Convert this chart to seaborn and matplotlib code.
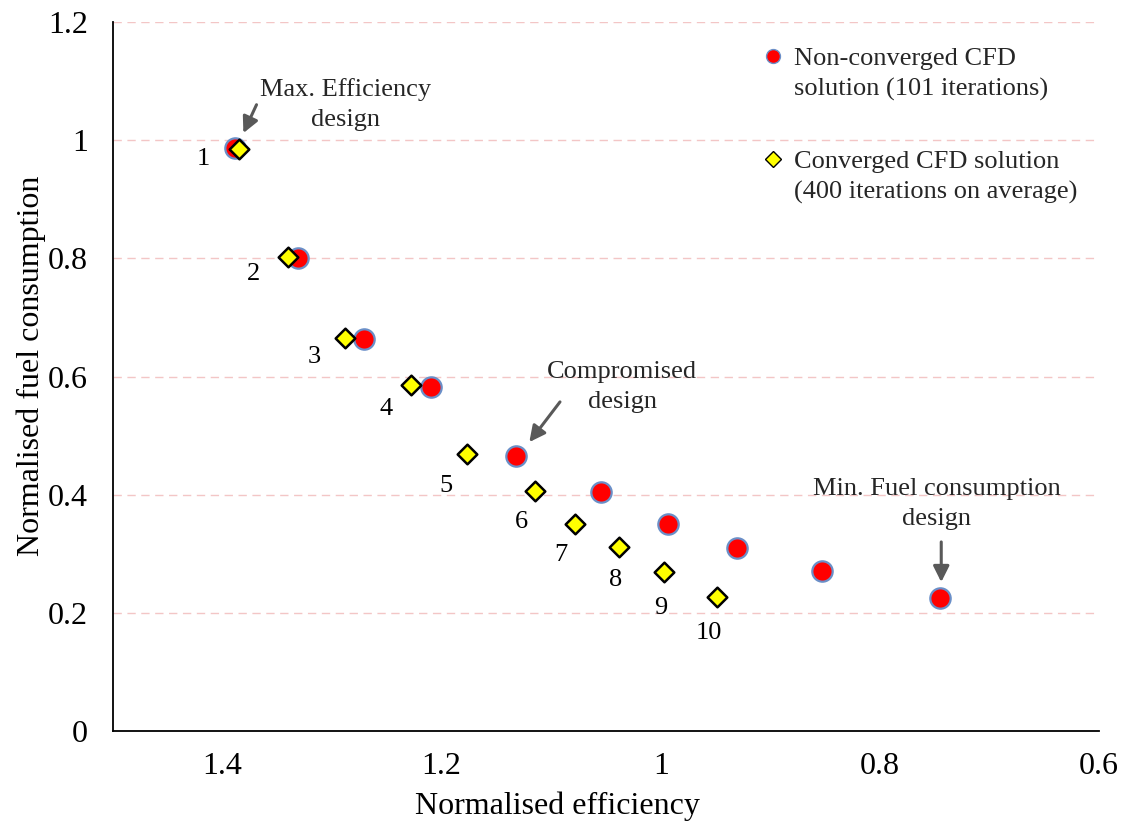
import numpy as np
import pandas as pd
import matplotlib
matplotlib.use("Agg")
import matplotlib.pyplot as plt
import seaborn as sns
from matplotlib.lines import Line2D
from matplotlib.legend_handler import HandlerLine2D

# ---- data ----
design_ids = ["1", "2", "3", "4", "5", "6", "7", "8", "9", "10"]
noncon_eff = [1.389, 1.331, 1.271, 1.210, 1.132, 1.055, 0.993, 0.930, 0.853, 0.745]
noncon_fuel = [0.986, 0.800, 0.664, 0.583, 0.466, 0.405, 0.351, 0.310, 0.271, 0.225]
conv_eff = [1.385, 1.340, 1.288, 1.228, 1.177, 1.115, 1.078, 1.038, 0.997, 0.949]
conv_fuel = [0.985, 0.802, 0.666, 0.585, 0.468, 0.407, 0.351, 0.312, 0.269, 0.227]
x_ticks = [1.4, 1.2, 1.0, 0.8, 0.6]
x_tick_labels = ["1.4", "1.2", "1", "0.8", "0.6"]
y_ticks = [0, 0.2, 0.4, 0.6, 0.8, 1.0, 1.2]
y_tick_labels = ["0", "0.2", "0.4", "0.6", "0.8", "1", "1.2"]
label_noncon = "Non-converged CFD\nsolution (101 iterations)"
label_conv = "Converged CFD solution\n(400 iterations on average)"

df_non = pd.DataFrame({"eff": noncon_eff, "fuel": noncon_fuel})
df_con = pd.DataFrame({"eff": conv_eff, "fuel": conv_fuel, "id": design_ids})

sns.set_theme(style="white")
plt.rcParams["font.family"] = ["Liberation Serif", "DejaVu Serif"]

fig = plt.figure(figsize=(11.27, 8.23), dpi=100)
ax = fig.add_axes([113 / 1127, 1 - 731 / 823, (1099 - 113) / 1127, (731 - 22) / 823])

# grid lines
for yv in y_ticks[1:]:
    ax.axhline(yv, color="#f3c6c6", lw=1.0, ls=(0, (6, 4)), zorder=0)

sns.scatterplot(data=df_non, x="eff", y="fuel", ax=ax, marker="o", s=215,
                color="#ff0000", edgecolor="#6a8fc8", linewidth=1.6, zorder=3,
                legend=False)
sns.scatterplot(data=df_con, x="eff", y="fuel", ax=ax, marker="D", s=100,
                color="#ffff00", edgecolor="black", linewidth=1.8, zorder=4,
                legend=False)

FS = 19
LSP = 1.45

# point numbers (offsets in pixels relative to converged points)
num_offsets = [(-36, -10), (-35, -17), (-31, -19), (-25, -24), (-21, -32),
               (-13, -31), (-14, -31), (-4, -33), (-3, -36), (-8, -36)]
for (xe, yf, lab), (dx, dy) in zip(zip(conv_eff, conv_fuel, design_ids), num_offsets):
    ax.annotate(lab, xy=(xe, yf), xytext=(dx, dy), textcoords="offset pixels",
                ha="center", va="center", fontsize=FS, color="black")

# annotations
arrow_kw = dict(arrowstyle="-|>", color="#595959", lw=2.2, mutation_scale=24,
                shrinkA=0, shrinkB=0)
ax.text(1.288, 1.060, "Max. Efficiency\ndesign", ha="center", va="center",
        fontsize=FS, linespacing=LSP)
ax.annotate("", xy=(1.381, 1.012), xytext=(1.369, 1.060), arrowprops=arrow_kw)

ax.text(1.035, 0.582, "Compromised\ndesign", ha="center", va="center",
        fontsize=FS, linespacing=LSP)
ax.annotate("", xy=(1.120, 0.489), xytext=(1.092, 0.557), arrowprops=arrow_kw)

ax.text(0.748, 0.384, "Min. Fuel consumption\ndesign", ha="center", va="center",
        fontsize=FS, linespacing=LSP)
ax.annotate("", xy=(0.744, 0.252), xytext=(0.744, 0.320), arrowprops=arrow_kw)

# axes
ax.set_xlim(1.5, 0.6)
ax.set_ylim(0, 1.2)
ax.set_xticks(x_ticks)
ax.set_xticklabels(x_tick_labels)
ax.set_yticks(y_ticks)
ax.set_yticklabels(y_tick_labels)
ax.tick_params(axis="both", which="major", labelsize=23, direction="out",
               length=8, width=1.2, color="black", labelcolor="black")
ax.tick_params(axis="x", pad=7)
ax.tick_params(axis="y", pad=10)
for side in ["top", "right"]:
    ax.spines[side].set_visible(False)
for side in ["left", "bottom"]:
    ax.spines[side].set_color("black")
    ax.spines[side].set_linewidth(1.3)
ax.set_xlabel("Normalised efficiency", fontsize=23, color="black")
ax.set_ylabel("Normalised fuel consumption", fontsize=23, color="black")
ax.xaxis.set_label_coords((557 - 113) / 986, -0.085)
ax.yaxis.set_label_coords(-0.068, (731 - 366) / 709)


class TopLineHandler(HandlerLine2D):
    """Place the legend marker level with the first line of a two-line label."""
    def __init__(self, dy=13, **kw):
        super().__init__(**kw)
        self.dy = dy

    def create_artists(self, legend, orig_handle, xdescent, ydescent, width,
                       height, fontsize, trans):
        arts = super().create_artists(legend, orig_handle, xdescent, ydescent,
                                      width, height, fontsize, trans)
        for a in arts:
            if hasattr(a, "get_ydata"):
                a.set_ydata([y + self.dy for y in a.get_ydata()])
        return arts


h1 = Line2D([], [], ls="none", marker="o", markersize=10, markerfacecolor="#ff0000",
            markeredgecolor="#6a8fc8", markeredgewidth=1.0)
h2 = Line2D([], [], ls="none", marker="D", markersize=8, markerfacecolor="#ffff00",
            markeredgecolor="black", markeredgewidth=1.0)
leg = ax.legend([h1, h2], [label_noncon, label_conv], loc="upper left",
                bbox_to_anchor=(0.659, 0.963), frameon=False, fontsize=FS,
                labelspacing=1.88, handlelength=0.8, handletextpad=0.4,
                borderpad=0, borderaxespad=0,
                handler_map={Line2D: TopLineHandler(dy=13)})
for t in leg.get_texts():
    t.set_linespacing(LSP)

fig.savefig("out.png", dpi=100)
